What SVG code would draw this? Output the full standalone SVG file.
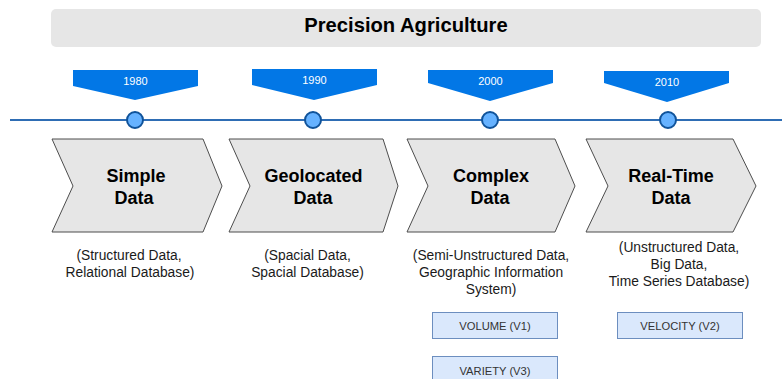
<svg xmlns="http://www.w3.org/2000/svg" width="782" height="379" viewBox="0 0 782 379">
<style>
.title{font-family:"Liberation Sans",Arial,sans-serif;font-weight:bold;font-size:20.2px;fill:#000;text-anchor:middle}
.banner{fill:#0277E6}
.year{font-family:"Liberation Sans",Arial,sans-serif;font-size:11px;fill:#fff;text-anchor:middle}
.dot{fill:#66B2FF;stroke:#10539A;stroke-width:2}
.chev{fill:#E6E6E6;stroke:#4D4D4D;stroke-width:1}
.head{font-family:"Liberation Sans",Arial,sans-serif;font-weight:bold;font-size:18px;fill:#000;text-anchor:middle}
.desc{font-family:"Liberation Sans",Arial,sans-serif;font-size:13.8px;fill:#1a1a1a;text-anchor:middle}
.vbox{fill:#DAE8FC;stroke:#6C8EBF;stroke-width:1}
.vtxt{font-family:"Liberation Sans",Arial,sans-serif;font-size:11.2px;fill:#333;text-anchor:middle}
</style>
<g id="title">
<rect x="51" y="9" width="710" height="38" rx="5" fill="#E6E6E6"/>
<text class="title" x="406" y="32">Precision Agriculture</text>
</g>
<g id="connectors">
<line x1="10" y1="120" x2="782" y2="120" stroke="#2E6DB4" stroke-width="2"/>
</g>
<g id="y1980">
<polygon class="banner" points="73,70 198,70 198,86 135,100 73,86"/>
<text class="year" x="135.5" y="85">1980</text>
<circle class="dot" cx="135" cy="120" r="8"/>
</g>
<g id="y1990">
<polygon class="banner" points="252,69 377,69 377,85 314,100 252,85"/>
<text class="year" x="314.5" y="84">1990</text>
<circle class="dot" cx="313" cy="120" r="8"/>
</g>
<g id="y2000">
<polygon class="banner" points="428,70 553,70 553,83 490,101 428,83"/>
<text class="year" x="490.5" y="85">2000</text>
<circle class="dot" cx="490" cy="120" r="8"/>
</g>
<g id="y2010">
<polygon class="banner" points="604,71 729,71 729,83 667,102 604,83"/>
<text class="year" x="667" y="86">2010</text>
<circle class="dot" cx="668" cy="120" r="8"/>
</g>
<g id="simple">
<polygon class="chev" points="52,139 203,139 222,186 203,232 52,232 73,186"/>
<text class="head" x="136" y="182">Simple</text>
<text class="head" x="134" y="203.5">Data</text>
<text class="desc" x="129" y="260">(Structured Data,</text>
<text class="desc" x="130" y="277">Relational Database)</text>
</g>
<g id="geolocated">
<polygon class="chev" points="229,139 383,139 398,186 383,232 229,232 250,186"/>
<text class="head" x="313.5" y="182">Geolocated</text>
<text class="head" x="313" y="203.5">Data</text>
<text class="desc" x="307.5" y="260">(Spacial Data,</text>
<text class="desc" x="307.5" y="277">Spacial Database)</text>
</g>
<g id="complex">
<polygon class="chev" points="407,139 555,139 575,186 555,232 407,232 428,186"/>
<text class="head" x="491" y="182">Complex</text>
<text class="head" x="490" y="203.5">Data</text>
<text class="desc" x="491" y="260">(Semi-Unstructured Data,</text>
<text class="desc" x="491" y="277">Geographic Information</text>
<text class="desc" x="491" y="294">System)</text>
</g>
<g id="realtime">
<polygon class="chev" points="586,139 733,139 756,186 733,232 586,232 608,186"/>
<text class="head" x="671" y="182">Real-Time</text>
<text class="head" x="671" y="203.5">Data</text>
<text class="desc" x="679" y="252">(Unstructured Data,</text>
<text class="desc" x="679" y="269">Big Data,</text>
<text class="desc" x="679" y="286">Time Series Database)</text>
</g>
<g id="volume">
<rect class="vbox" x="432.5" y="312.5" width="125" height="26"/>
<text class="vtxt" x="495" y="330">VOLUME (V1)</text>
</g>
<g id="velocity">
<rect class="vbox" x="617.5" y="312.5" width="125" height="26"/>
<text class="vtxt" x="680" y="330">VELOCITY (V2)</text>
</g>
<g id="variety">
<rect class="vbox" x="432.5" y="356.5" width="125" height="26"/>
<text class="vtxt" x="495" y="375">VARIETY (V3)</text>
</g>
</svg>
